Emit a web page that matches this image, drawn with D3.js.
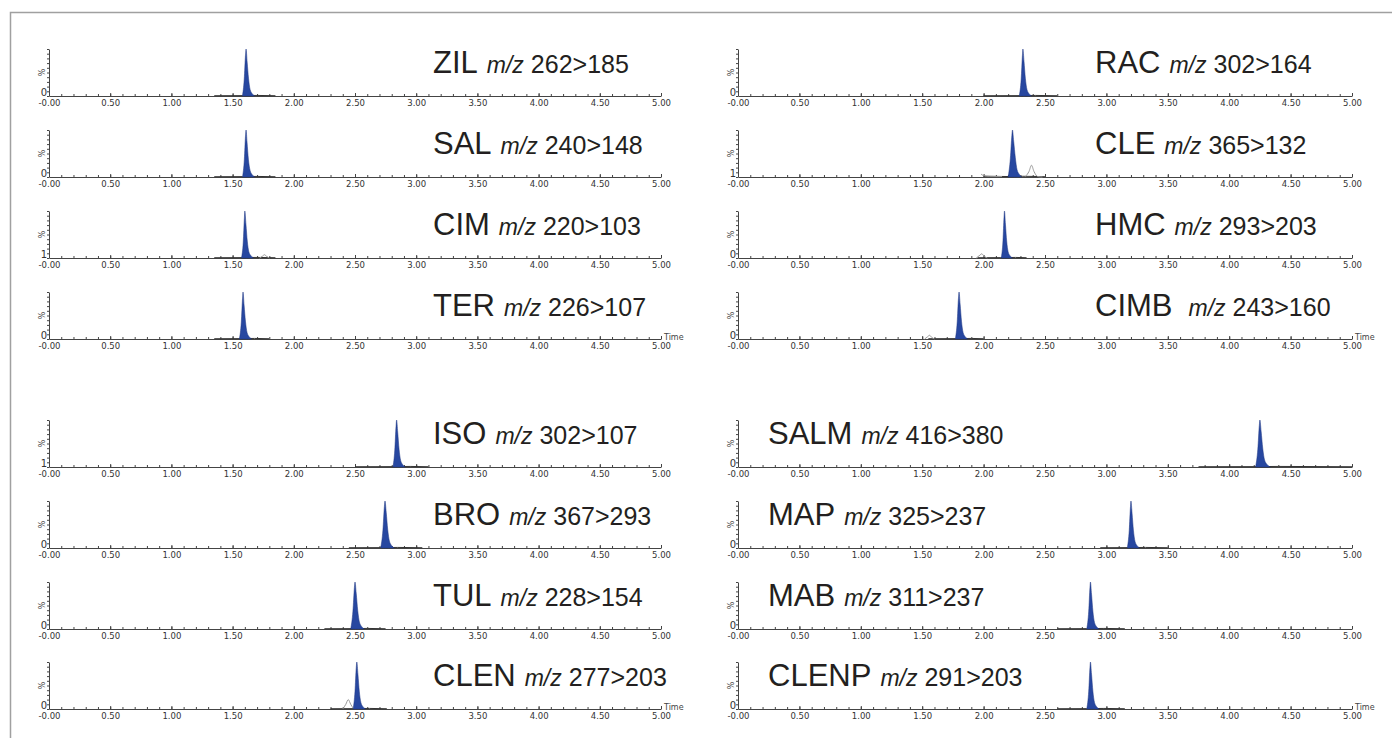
<!DOCTYPE html>
<html>
<head>
<meta charset="utf-8">
<script src="https://cdn.jsdelivr.net/npm/d3@7"></script>
<style>
  body { margin: 0; background: #fff; }
  svg { display: block; }
  .tick text { font-family: "DejaVu Sans", Verdana, sans-serif; font-size: 8.5px; fill: #333; }
  .axis path, .axis line { stroke: #444; }
</style>
</head>
<body>
<div id="chart-area"></div>
<script>
const W = 1392, H = 738

// ---- data ----
const compounds = ["ZIL", "SAL", "CIM", "TER", "RAC", "CLE", "HMC", "CIMB",
  "ISO", "BRO", "TUL", "CLEN", "SALM", "MAP", "MAB", "CLENP"]
const transitions = ["262>185", "240>148", "220>103", "226>107", "302>164", "365>132", "293>203", "243>160",
  "302>107", "367>293", "228>154", "277>203", "416>380", "325>237", "311>237", "291>203"]
const yMinLabels = ["0", "0", "1", "0", "0", "1", "0", "0", "1", "0", "0", "0", "0", "0", "0", "0"]
const majorTicks = [0, 0.5, 1, 1.5, 2, 2.5, 3, 3.5, 4, 4.5, 5]
const tickLabels = ["-0.00", "0.50", "1.00", "1.50", "2.00", "2.50", "3.00", "3.50", "4.00", "4.50", "5.00"]

// integrated (blue) peaks: [time, % intensity]
const peaks = [
  [[1.58,0],[1.595,36],[1.605,86],[1.61,100],[1.619,72],[1.63,38],[1.643,14],[1.66,5],[1.68,0]],
  [[1.581,0],[1.596,38],[1.605,86],[1.61,100],[1.618,74],[1.629,38],[1.643,14],[1.66,5],[1.68,0]],
  [[1.572,0],[1.587,34],[1.596,84],[1.60,100],[1.609,72],[1.62,36],[1.633,13],[1.65,5],[1.67,0]],
  [[1.555,0],[1.571,36],[1.581,86],[1.585,100],[1.594,72],[1.605,38],[1.618,14],[1.635,5],[1.655,0]],
  [[2.29,0],[2.306,36],[2.316,86],[2.32,100],[2.329,74],[2.34,38],[2.353,14],[2.37,5],[2.39,0]],
  [[2.2,0],[2.218,40],[2.23,88],[2.235,100],[2.245,76],[2.258,42],[2.272,16],[2.29,6],[2.31,0]],
  [[2.143,0],[2.158,38],[2.166,86],[2.17,100],[2.178,72],[2.188,36],[2.2,13],[2.215,5],[2.235,0]],
  [[1.77,0],[1.785,36],[1.795,86],[1.80,100],[1.809,74],[1.82,38],[1.833,14],[1.85,5],[1.87,0]],
  [[2.81,0],[2.825,36],[2.835,86],[2.84,100],[2.849,74],[2.86,38],[2.873,14],[2.89,5],[2.91,0]],
  [[2.71,0],[2.728,38],[2.74,88],[2.745,100],[2.755,76],[2.767,40],[2.781,15],[2.8,5],[2.82,0]],
  [[2.465,0],[2.483,38],[2.495,88],[2.50,100],[2.51,76],[2.522,40],[2.536,15],[2.555,5],[2.575,0]],
  [[2.485,0],[2.5,38],[2.51,88],[2.515,100],[2.524,74],[2.535,38],[2.548,14],[2.565,5],[2.585,0]],
  [[4.215,0],[4.233,38],[4.245,88],[4.25,100],[4.26,76],[4.273,40],[4.288,15],[4.31,5],[4.335,0]],
  [[3.17,0],[3.186,38],[3.196,88],[3.20,100],[3.209,74],[3.22,38],[3.233,14],[3.25,5],[3.27,0]],
  [[2.84,0],[2.856,38],[2.866,88],[2.87,100],[2.879,74],[2.89,38],[2.903,14],[2.92,5],[2.94,0]],
  [[2.84,0],[2.856,38],[2.866,88],[2.87,100],[2.879,74],[2.89,38],[2.903,14],[2.92,5],[2.94,0]]
]

// dark baseline trace around each peak
const baselines = [
  [[1.35,0.6],[1.58,0.8],[1.70,1.2],[1.85,0.6]],
  [[1.35,0.6],[1.58,0.8],[1.70,1.2],[1.85,0.6]],
  [[1.35,0.6],[1.57,0.8],[1.70,1.2],[1.85,0.6]],
  [[1.35,0.6],[1.56,0.8],[1.68,1.2],[1.80,0.6]],
  [[2.00,0.6],[2.29,0.8],[2.42,1.2],[2.60,0.6]],
  [[2.00,1.5],[2.20,1.0],[2.32,1.5],[2.50,0.6]],
  [[1.95,0.6],[2.14,0.8],[2.26,1.2],[2.35,0.6]],
  [[1.55,0.6],[1.77,0.8],[1.90,1.2],[2.00,0.6]],
  [[2.50,0.6],[2.81,0.8],[2.95,1.2],[3.10,0.6]],
  [[2.45,0.6],[2.71,0.8],[2.85,1.2],[3.05,0.6]],
  [[2.25,0.6],[2.47,0.8],[2.60,1.2],[2.75,0.6]],
  [[2.30,0.6],[2.49,0.8],[2.62,1.2],[2.76,0.6]],
  [[3.75,0.6],[4.22,0.8],[4.40,1.2],[5.00,0.6]],
  [[2.95,0.6],[3.17,0.8],[3.32,1.2],[3.50,0.6]],
  [[2.60,0.6],[2.84,0.8],[2.98,1.2],[3.15,0.6]],
  [[2.60,0.6],[2.84,0.8],[2.98,1.2],[3.15,0.6]]
]

// non-integrated (light grey) peaks
const otherPeaks = [
  [], [],
  [[[1.72,0],[1.745,4],[1.76,7],[1.775,4],[1.80,0]]],
  [], [],
  [[[1.98,6],[2.0,3],[2.05,1.5],[2.15,1]], [[2.34,1],[2.37,12],[2.39,25],[2.41,12],[2.44,1],[2.48,0]]],
  [[[1.94,0],[1.97,6],[1.985,9],[2.0,5],[2.03,0]]],
  [[[1.52,0],[1.545,5],[1.56,8],[1.575,4],[1.60,0]]],
  [], [], [],
  [[[2.40,0],[2.425,10],[2.445,20],[2.465,10],[2.49,0]]],
  [], [], [], []
]

// ---- layout ----
const COL_X = [{ x0: 49, x1: 661 }, { x0: 738, x1: 1352 }]
const BASES = [[96, 177, 258, 339], [467, 548, 629, 709]]
const PLOT_H = 47
const TITLE_X = [[433, 1095], [433, 768]]
const BLUE = "#2747a0"

const svg = d3.select("#chart-area").append("svg")
  .attr("width", W)
  .attr("height", H)

// outer frame
svg.append("rect")
  .attr("x", 10.5).attr("y", 12.5)
  .attr("width", W).attr("height", H)
  .attr("fill", "none")
  .attr("stroke", "#a0a0a0")
  .attr("stroke-width", 1.5)

const minorTicks = d3.range(0, 51).map(d => d / 10)

compounds.forEach((name, i) => {
  const col = Math.floor(i / 4) % 2
  const block = Math.floor(i / 8)
  const row = i % 4
  const base = BASES[block][row]
  const { x0, x1 } = COL_X[col]

  const x = d3.scaleLinear().domain([0, 5]).range([x0, x1])
  const y = d3.scaleLinear().domain([0, 100]).range([base, base - PLOT_H])

  const g = svg.append("g")

  // minor x ticks
  g.append("g")
    .attr("class", "axis")
    .attr("transform", `translate(0, ${base})`)
    .call(d3.axisBottom(x).tickValues(minorTicks).tickSize(-2).tickSizeOuter(0).tickFormat(""))
    .call(a => a.select(".domain").remove())

  // major x ticks + labels
  g.append("g")
    .attr("class", "axis")
    .attr("transform", `translate(0, ${base})`)
    .call(d3.axisBottom(x).tickValues(majorTicks).tickSize(-3).tickSizeOuter(0).tickPadding(4)
      .tickFormat((d, k) => tickLabels[k]))

  // y axis
  g.append("g")
    .attr("class", "axis")
    .attr("transform", `translate(${x0}, 0)`)
    .call(d3.axisLeft(y).tickValues(d3.range(0, 101, 10)).tickSize(2).tickSizeOuter(0).tickFormat(""))

  g.append("text")
    .attr("x", x0 - 2).attr("y", base - 0.5)
    .attr("text-anchor", "end")
    .attr("font-family", "DejaVu Sans, sans-serif")
    .attr("font-size", "10px")
    .attr("fill", "#333")
    .text(yMinLabels[i])

  g.append("text")
    .attr("transform", `translate(${x0 - 4}, ${base - PLOT_H / 2}) rotate(-90)`)
    .attr("text-anchor", "middle")
    .attr("font-family", "DejaVu Sans, sans-serif")
    .attr("font-size", "8px")
    .attr("fill", "#444")
    .text("%")

  if (row === 3) {
    g.append("text")
      .attr("x", x1 + 3).attr("y", base + 1)
      .attr("font-family", "DejaVu Sans, sans-serif")
      .attr("font-size", "8px")
      .attr("fill", "#444")
      .text("Time")
  }

  const line = d3.line().x(d => x(d[0])).y(d => y(d[1])).curve(d3.curveMonotoneX)
  const area = d3.area().x(d => x(d[0])).y0(y(0)).y1(d => y(d[1])).curve(d3.curveMonotoneX)

  g.append("path")
    .attr("d", line(baselines[i]))
    .attr("fill", "none")
    .attr("stroke", "#333")
    .attr("stroke-width", 1)

  otherPeaks[i].forEach(p => {
    g.append("path")
      .attr("d", line(p))
      .attr("fill", "none")
      .attr("stroke", "#999")
      .attr("stroke-width", 1)
  })

  g.append("path")
    .attr("d", area(peaks[i]))
    .attr("fill", BLUE)
    .attr("stroke", "#1d3580")
    .attr("stroke-width", 0.5)

  // title
  const t = svg.append("text")
    .attr("x", TITLE_X[block][col])
    .attr("y", base - 23)
    .attr("font-family", "Liberation Sans, Arial, sans-serif")
    .attr("fill", "#231f20")
  t.append("tspan").attr("font-size", "31px").text(name)
  t.append("tspan").attr("dx", name === "CIMB" ? 16 : 9).attr("font-size", "23px").attr("font-style", "italic").text("m/z")
  t.append("tspan").attr("dx", 7).attr("font-size", "25px").text(transitions[i])
})
</script>
</body>
</html>
